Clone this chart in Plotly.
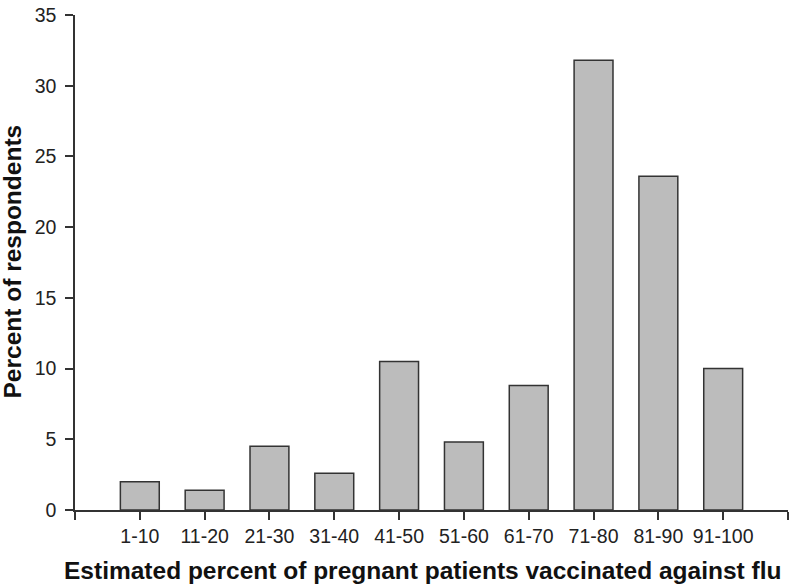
import plotly.graph_objects as go

categories = ["1-10", "11-20", "21-30", "31-40", "41-50", "51-60", "61-70", "71-80", "81-90", "91-100"]
percent = [2.0, 1.4, 4.5, 2.6, 10.5, 4.8, 8.8, 31.8, 23.6, 10.0]
y_ticks = [0, 5, 10, 15, 20, 25, 30, 35]

x_pos = list(range(len(categories)))
tickvals = [-1] + x_pos + [len(categories)]
ticktext = [""] + categories + [""]

fig = go.Figure(go.Bar(
    x=x_pos, y=percent, width=0.6,
    marker=dict(color="#bcbcbc", line=dict(color="#333333", width=1.5)),
))

font_family = "Liberation Sans, Arial, sans-serif"
fig.update_layout(
    width=792, height=586,
    margin=dict(l=75, r=4, t=10, b=76),
    paper_bgcolor="white", plot_bgcolor="white",
    showlegend=False,
    font=dict(family=font_family, color="#222222", size=20),
    xaxis=dict(
        range=[-1, len(categories)], tickmode="array", tickvals=tickvals, ticktext=ticktext,
        showline=True, linecolor="#333333", linewidth=1.5,
        ticks="outside", ticklen=8, tickcolor="#333333", tickwidth=1.5,
        showgrid=False, zeroline=False,
        tickfont=dict(size=19.5, color="#222222"),
    ),
    yaxis=dict(
        range=[0, 35.001], tickmode="array", tickvals=y_ticks,
        showline=True, linecolor="#333333", linewidth=1.5,
        ticks="outside", ticklen=8, tickcolor="#333333", tickwidth=1.5,
        ticklabelstandoff=5, ticklabeloverflow="allow",
        showgrid=False, zeroline=False,
        tickfont=dict(size=19.5, color="#222222"),
    ),
    annotations=[
        dict(text="<b>Estimated percent of pregnant patients vaccinated against flu</b>",
             xref="paper", yref="paper", x=0.487, y=-0.122, xanchor="center", yanchor="middle",
             showarrow=False, font=dict(size=24.5, color="#111111")),
        dict(text="<b>Percent of respondents</b>", textangle=-90,
             xref="paper", yref="paper", x=-0.087, y=0.502, xanchor="center", yanchor="middle",
             showarrow=False, font=dict(size=24.5, color="#111111")),
    ],
)

fig.write_html("out.html", config={"displayModeBar": False},
               post_script="document.body.style.margin='0px';")
